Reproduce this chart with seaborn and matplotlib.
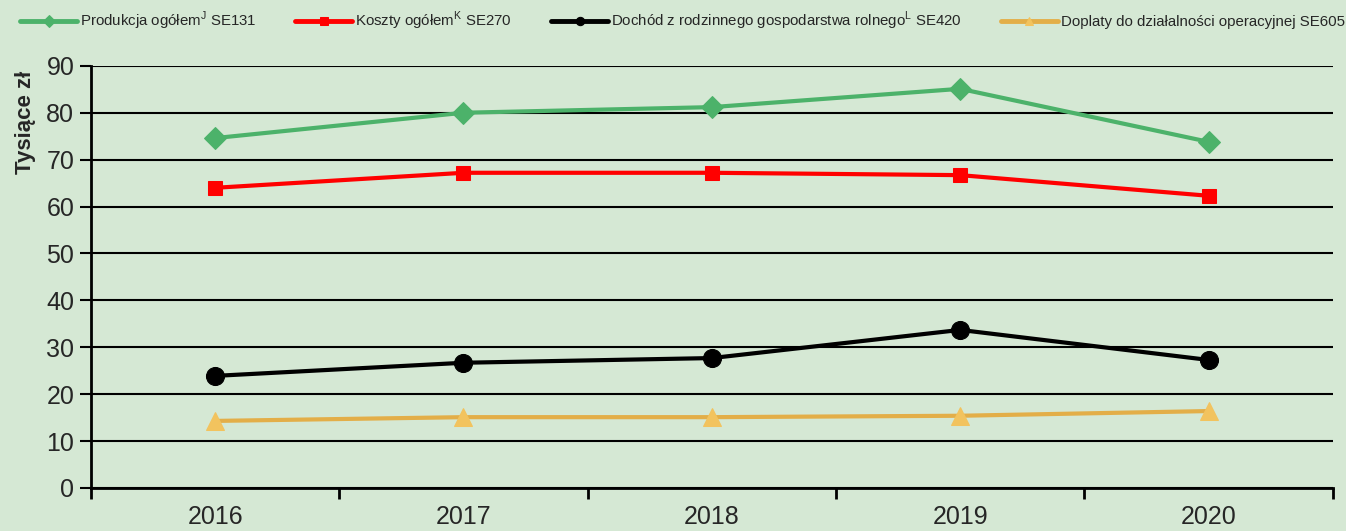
import pandas as pd
import seaborn as sns
import matplotlib.pyplot as plt

# Dane (tys. zł)
lata = ['2016', '2017', '2018', '2019', '2020']
produkcja = [74.6, 80.0, 81.2, 85.1, 73.8]
koszty = [64.0, 67.2, 67.2, 66.7, 62.3]
dochod = [23.9, 26.7, 27.7, 33.7, 27.3]
doplaty = [14.3, 15.1, 15.1, 15.4, 16.4]

etykiety = [
    'Produkcja ogółem$^{\\mathregular{J}}$ SE131',
    'Koszty ogółem$^{\\mathregular{K}}$ SE270',
    'Dochód z rodzinnego gospodarstwa rolnego$^{\\mathregular{L}}$ SE420',
    'Doplaty do działalności operacyjnej SE605',
]

sns.set_style('white')
plt.rcParams['font.family'] = ['Liberation Sans', 'DejaVu Sans']
plt.rcParams['mathtext.fontset'] = 'custom'

tlo = '#D5E8D4'
fig = plt.figure(figsize=(13.46, 5.31), dpi=100, facecolor=tlo)
ax = fig.add_axes([0.0676, 0.081, 0.9225, 0.795])
ax.set_facecolor(tlo)

serie = [
    (produkcja, '#4CB26A', 'D', 11, '#4CB26A'),
    (koszty, '#FF0000', 's', 10, '#FF0000'),
    (dochod, '#000000', 'o', 13, '#000000'),
    (doplaty, '#E3AE48', '^', 13, '#F2C35E'),
]

pozycje = list(range(len(lata)))
for (wart, kolor, marker, ms, mkolor), etyk in zip(serie, etykiety):
    df = pd.DataFrame({'x': pozycje, 'y': wart})
    sns.lineplot(data=df, x='x', y='y', ax=ax, color=kolor, lw=3,
                 marker=marker, markersize=ms, markerfacecolor=mkolor,
                 markeredgecolor=mkolor, label=etyk, zorder=3)

ax.set_xlim(-0.5, len(lata) - 0.5)
ax.set_ylim(0, 90)
ax.set_yticks(range(0, 91, 10))
ax.set_xticks(pozycje)
ax.set_xticklabels(lata)
ax.set_xticks([i - 0.5 for i in range(len(lata) + 1)], minor=True)
ax.tick_params(axis='x', which='major', length=0, pad=12, labelsize=18)
ax.tick_params(axis='x', which='minor', length=8, width=2, direction='out', color='black', bottom=True)
ax.tick_params(axis='y', length=8, width=1.5, direction='out', color='black', left=True, labelsize=18, pad=4)

ax.grid(axis='y', color='black', lw=1.5)
ax.grid(axis='x', visible=False)
for s in ['top', 'right']:
    ax.spines[s].set_visible(False)
for s in ['left', 'bottom']:
    ax.spines[s].set_color('black')
    ax.spines[s].set_linewidth(2)

ax.set_xlabel('')
ax.set_ylabel('Tysiące zł', fontsize=16, fontweight='bold')
ax.yaxis.set_label_coords(-0.044, 0.865)

leg = ax.legend(loc='lower left', bbox_to_anchor=(-0.062, 1.065), ncol=4, frameon=False,
                fontsize=10.8, handlelength=3.8, handletextpad=0.2, columnspacing=2.6,
                borderaxespad=0)
for h in leg.legend_handles:
    h.set_markersize(6)
    h.set_linewidth(3.5)

fig.savefig('out.png', dpi=100, facecolor=tlo)
